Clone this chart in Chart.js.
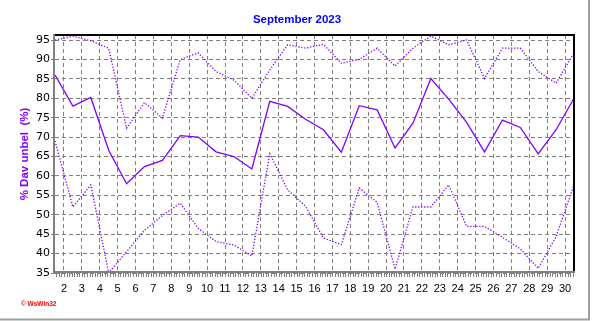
<!DOCTYPE html>
<html><head><meta charset="utf-8">
<script src="https://cdn.jsdelivr.net/npm/chart.js@4/dist/chart.umd.min.js"></script>
<style>html,body{margin:0;padding:0;background:#fff;overflow:hidden}#wrap{width:592px;height:321px;position:relative}</style>
</head><body><div id="wrap"><canvas id="c" width="592" height="321"></canvas></div>
<script>
const titleText = 'September 2023';
const yAxisTitle = '% Dav unbel  (%)';
const creditText = '\u00A9 WsWin32';

const days = [1.5, 2.5, 3.5, 4.5, 5.5, 6.5, 7.5, 8.5, 9.5, 10.5,
              11.5, 12.5, 13.5, 14.5, 15.5, 16.5, 17.5, 18.5, 19.5, 20.5,
              21.5, 22.5, 23.5, 24.5, 25.5, 26.5, 27.5, 28.5, 29.5, 30.5];
const xTickLabels = [2, 3, 4, 5, 6, 7, 8, 9, 10, 11, 12, 13, 14, 15, 16,
                     17, 18, 19, 20, 21, 22, 23, 24, 25, 26, 27, 28, 29, 30];
const yTickLabels = [35, 40, 45, 50, 55, 60, 65, 70, 75, 80, 85, 90, 95];

const avgHumidity = [86.0, 78.0, 80.2, 66.6, 58.0, 62.4, 64.0, 70.4, 70.0, 66.2,
                     65.0, 61.8, 79.2, 77.9, 74.6, 71.9, 66.1, 78.1, 77.0, 67.2,
                     73.6, 85.1, 79.8, 73.8, 66.2, 74.4, 72.5, 65.7, 71.9, 80.0];
const maxHumidity = [95.0, 96.0, 94.8, 92.9, 72.3, 78.9, 74.9, 90.0, 91.7, 86.9,
                     84.7, 80.0, 87.3, 93.8, 92.9, 93.9, 89.0, 90.0, 92.9, 88.3,
                     92.9, 96.0, 93.8, 95.0, 85.1, 92.9, 92.9, 86.9, 83.9, 91.7];
const minHumidity = [69.0, 52.0, 57.7, 35.0, 40.5, 46.0, 49.8, 53.0, 46.5, 43.1,
                     42.2, 39.4, 65.7, 56.4, 52.2, 44.0, 42.3, 56.9, 53.2, 36.0,
                     52.0, 52.0, 57.7, 47.0, 47.0, 44.2, 41.2, 36.2, 44.4, 57.7];

const LINE = '#8000FF';
const toPts = arr => arr.map((v, i) => ({x: days[i], y: v}));

const framePlugin = {
  id: 'framePlugin',
  beforeDraw(chart) {
    const ctx = chart.ctx;
    ctx.save();
    ctx.fillStyle = '#ffffff';
    ctx.fillRect(0, 0, chart.width, chart.height);
    ctx.restore();
  },
  afterDraw(chart) {
    const {ctx, chartArea: a, scales: {x}} = chart;
    ctx.save();
    // minor ticks on x axis
    ctx.strokeStyle = '#808080';
    ctx.lineWidth = 1;
    ctx.beginPath();
    for (let k = Math.ceil(x.min * 7); k <= Math.floor(x.max * 7); k++) {
      const px = Math.round(x.getPixelForValue(k / 7)) + 0.5;
      ctx.moveTo(px, a.bottom);
      ctx.lineTo(px, a.bottom + 4);
    }
    ctx.stroke();
    // top and right black border
    ctx.strokeStyle = '#000000';
    ctx.lineWidth = 2;
    ctx.beginPath();
    ctx.moveTo(a.left, a.top);
    ctx.lineTo(a.right, a.top);
    ctx.lineTo(a.right, a.bottom);
    ctx.stroke();
    // left and bottom gray axes
    ctx.strokeStyle = '#808080';
    ctx.lineWidth = 2;
    ctx.beginPath();
    ctx.moveTo(a.left - 1, a.top - 1);
    ctx.lineTo(a.left - 1, a.bottom - 1);
    ctx.lineTo(a.right + 1, a.bottom - 1);
    ctx.stroke();
    // title
    ctx.fillStyle = '#0000FF';
    ctx.font = 'bold 11.5px "Liberation Sans", Arial, sans-serif';
    ctx.textAlign = 'center';
    ctx.textBaseline = 'middle';
    ctx.fillText(titleText, 297, 20);
    // y axis title
    ctx.save();
    ctx.translate(25, (a.top + a.bottom) / 2);
    ctx.rotate(-Math.PI / 2);
    ctx.fillStyle = LINE;
    ctx.font = 'bold 11.5px "Liberation Sans", Arial, sans-serif';
    ctx.fillText(yAxisTitle, 0, 0);
    ctx.restore();
    // credit
    ctx.fillStyle = '#FF0000';
    ctx.font = 'bold 6.5px "Liberation Sans", Arial, sans-serif';
    ctx.textAlign = 'left';
    ctx.fillText(creditText, 21, 304);
    // outer border
    ctx.strokeStyle = '#A0A0A0';
    ctx.lineWidth = 2;
    ctx.beginPath();
    ctx.moveTo(589, 0);
    ctx.lineTo(589, 319.5);
    ctx.lineTo(0, 319.5);
    ctx.stroke();
    ctx.restore();
  }
};

new Chart(document.getElementById('c'), {
  type: 'line',
  data: {
    datasets: [
      {label: 'max', data: toPts(maxHumidity), borderColor: LINE, borderWidth: 1.3, borderDash: [1.3, 1.7], pointRadius: 0, tension: 0, fill: false},
      {label: 'min', data: toPts(minHumidity), borderColor: LINE, borderWidth: 1.3, borderDash: [1.3, 1.7], pointRadius: 0, tension: 0, fill: false},
      {label: 'avg', data: toPts(avgHumidity), borderColor: LINE, borderWidth: 1.3, pointRadius: 0, tension: 0, fill: false}
    ]
  },
  options: {
    responsive: false,
    animation: false,
    devicePixelRatio: 1,
    layout: {padding: {top: 35, right: 18, left: 0, bottom: 0}},
    plugins: {legend: {display: false}, title: {display: false}, tooltip: {enabled: false}},
    scales: {
      x: {
        type: 'linear', min: 1.5, max: 30.5,
        afterBuildTicks: s => { s.ticks = xTickLabels.map(v => ({value: v})); },
        afterFit: s => { s.height = 48; },
        ticks: {color: '#000', font: {family: '"Liberation Sans", Arial, sans-serif', size: 11}, padding: 9, maxRotation: 0, autoSkip: false,
                callback: v => String(v)},
        grid: {color: '#808080', lineWidth: 1, drawTicks: false},
        border: {display: false, dash: [4, 3]}
      },
      y: {
        type: 'linear', min: 35, max: 96.3,
        afterBuildTicks: s => { s.ticks = yTickLabels.map(v => ({value: v})); },
        afterFit: s => { s.width = 55; },
        ticks: {color: '#000', font: {family: '"DejaVu Sans", sans-serif', size: 11}, padding: 1, autoSkip: false,
                callback: v => String(v)},
        grid: {color: '#808080', lineWidth: 1, drawTicks: true, tickLength: 4, tickColor: '#808080', tickBorderDash: []},
        border: {display: false, dash: [4, 3]}
      }
    }
  },
  plugins: [framePlugin]
});
</script>
</body></html>
